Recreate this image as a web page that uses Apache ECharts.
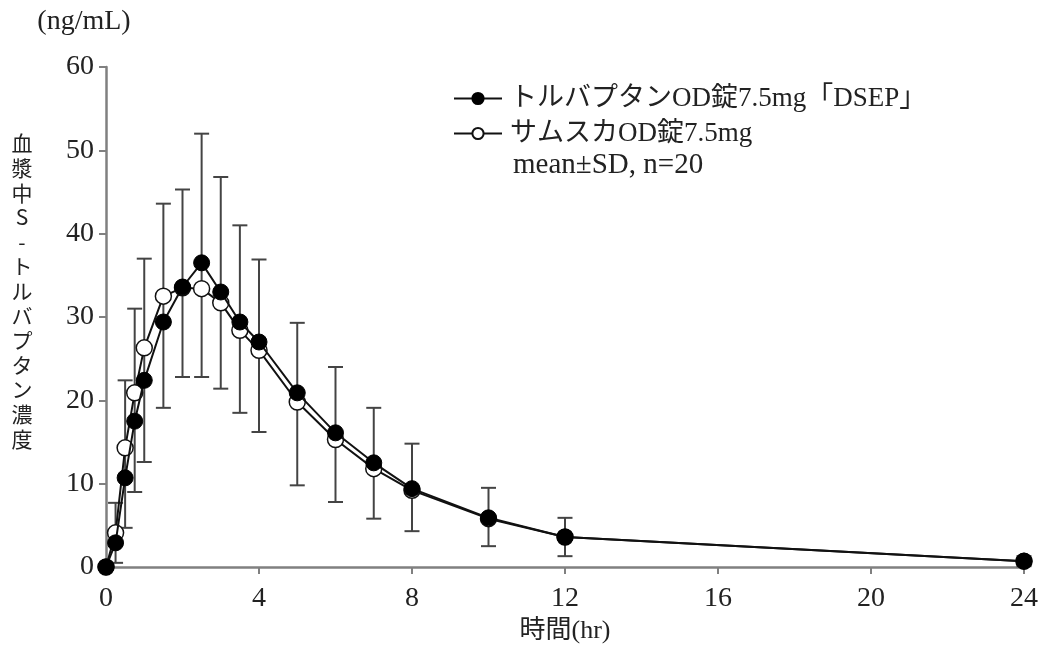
<!DOCTYPE html>
<html>
<head>
<meta charset="utf-8">
<script src="https://cdn.jsdelivr.net/npm/echarts@6/dist/echarts.min.js"></script>
<style>
  html, body { margin: 0; padding: 0; background: #fff; }
  #chart { width: 1040px; height: 648px; }
</style>
</head>
<body>
<div id="chart"></div>
<script>
const FONT = "'Liberation Serif', 'Noto Sans CJK JP', serif";

// sampling times (hr)
const times = [0, 0.25, 0.5, 0.75, 1, 1.5, 2, 2.5, 3, 3.5, 4, 5, 6, 7, 8, 10, 12, 24];

// mean concentrations (ng/mL)
const dsepMean = [0, 2.9, 10.7, 17.5, 22.4, 29.4, 33.6, 36.5, 33.0, 29.4, 27.0, 20.9, 16.1, 12.5, 9.4, 5.9, 3.6, 0.7];
const samscaMean = [0, 4.1, 14.3, 20.9, 26.3, 32.5, 33.5, 33.4, 31.7, 28.4, 26.0, 19.8, 15.3, 11.8, 9.2, 5.8, 3.6, 0.7];

// error bar ends
const sdHigh = [0, 7.7, 22.4, 31.0, 37.0, 43.6, 45.3, 52.0, 46.8, 41.0, 36.9, 29.3, 24.0, 19.1, 14.8, 9.5, 5.9, 1.3];
const sdLow = [0, 0.5, 4.7, 9.0, 12.6, 19.1, 22.8, 22.8, 21.4, 18.5, 16.2, 9.8, 7.8, 5.8, 4.3, 2.5, 1.3, 0.1];

const seriesNames = ["トルバプタンOD錠7.5mg「DSEP」", "サムスカOD錠7.5mg"];
const xTicks = { min: 0, max: 24, interval: 4 };
const yTicks = { min: 0, max: 60, interval: 10 };

const yTitle = "血漿中S-トルバプタン濃度";

const pair = (ys) => times.map((t, i) => [t, ys[i]]);
const errData = times.map((t, i) => [t, sdLow[i], sdHigh[i]]).filter((d) => d[2] > d[1]);

const axisGray = "#808080";

const chart = echarts.init(document.getElementById("chart"));

chart.setOption({
    animation: false,
    backgroundColor: "#fff",
    grid: { left: 106, right: 16, top: 67, bottom: 81, outerBoundsMode: "none", containLabel: false },
    legend: {
        left: 448,
        top: 80,
        orient: "vertical",
        itemWidth: 48,
        itemHeight: 14,
        itemGap: 8,
        data: seriesNames,
        textStyle: { fontFamily: FONT, fontSize: 27, lineHeight: 27, color: "#222", padding: [0, 0, 0, 3] },
    },
    xAxis: {
        type: "value",
        min: xTicks.min,
        max: xTicks.max,
        interval: xTicks.interval,
        name: "時間(hr)",
        nameLocation: "middle",
        nameGap: 43,
        nameTextStyle: { fontFamily: FONT, fontSize: 26, color: "#222" },
        splitLine: { show: false },
        axisLine: { lineStyle: { color: axisGray, width: 2.5 } },
        axisTick: { length: 7, lineStyle: { color: axisGray, width: 2 } },
        axisLabel: { margin: 18, fontFamily: FONT, fontSize: 28, color: "#222" },
    },
    yAxis: {
        type: "value",
        min: yTicks.min,
        max: yTicks.max,
        interval: yTicks.interval,
        splitLine: { show: false },
        axisLine: { show: true, lineStyle: { color: axisGray, width: 2.5 } },
        axisTick: { show: true, length: 7, lineStyle: { color: axisGray, width: 2 } },
        axisLabel: { margin: 12, fontFamily: FONT, fontSize: 28, color: "#222" },
    },
    graphic: [
        {
            type: "text",
            x: 84,
            y: 22,
            style: {
                text: "(ng/mL)", fontFamily: FONT, fontSize: 28, fill: "#222",
                align: "center", verticalAlign: "middle",
            },
        },
        {
            type: "text",
            x: 22,
            y: 291,
            style: {
                text: Array.from(yTitle).join("\n"),
                fontFamily: "'Noto Sans CJK JP', sans-serif",
                fontSize: 21,
                lineHeight: 24.6,
                align: "center",
                verticalAlign: "middle",
                fill: "#222",
            },
        },
        {
            type: "text",
            x: 513,
            y: 165,
            style: {
                text: "mean±SD, n=20", fontFamily: FONT, fontSize: 29, fill: "#222",
                verticalAlign: "middle",
            },
        },
    ],
    series: [
        {
            type: "custom",
            name: "sd",
            z: 1,
            silent: true,
            data: errData,
            encode: { x: 0, y: [1, 2] },
            renderItem: (params, api) => {
                const lo = api.coord([api.value(0), api.value(1)]);
                const hi = api.coord([api.value(0), api.value(2)]);
                const w = 7.5;
                const st = { stroke: "#444", lineWidth: 2 };
                return {
                    type: "group",
                    children: [
                        { type: "line", shape: { x1: lo[0], y1: lo[1], x2: hi[0], y2: hi[1] }, style: st },
                        { type: "line", shape: { x1: lo[0] - w, y1: lo[1], x2: lo[0] + w, y2: lo[1] }, style: st },
                        { type: "line", shape: { x1: hi[0] - w, y1: hi[1], x2: hi[0] + w, y2: hi[1] }, style: st },
                    ],
                };
            },
        },
        {
            type: "line",
            name: seriesNames[1],
            z: 3,
            data: pair(samscaMean),
            symbol: "circle",
            symbolSize: 16,
            lineStyle: { color: "#111", width: 2 },
            itemStyle: { color: "#fff", borderColor: "#111", borderWidth: 1.5 },
        },
        {
            type: "line",
            name: seriesNames[0],
            z: 4,
            data: pair(dsepMean),
            symbol: "circle",
            symbolSize: 16,
            lineStyle: { color: "#111", width: 2 },
            itemStyle: { color: "#000", borderColor: "#000", borderWidth: 1 },
        },
    ],
});
</script>
</body>
</html>
